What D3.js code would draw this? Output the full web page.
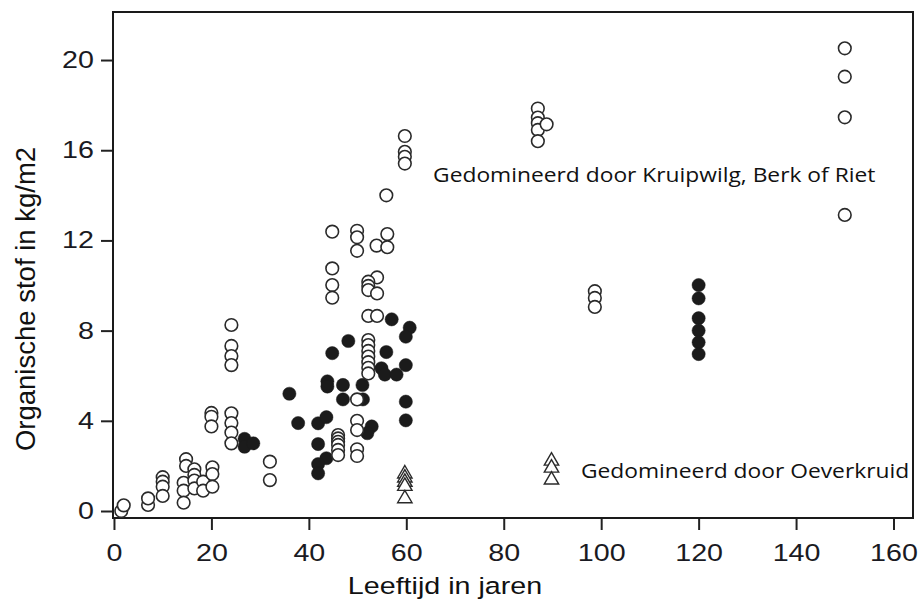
<!DOCTYPE html>
<html><head><meta charset="utf-8">
<script src="https://cdn.jsdelivr.net/npm/d3@7"></script>
<style>body{margin:0;background:#fff}svg{display:block}</style>
</head><body><svg id="c" width="918" height="599"></svg>
<script>
// Open circles: gedomineerd door Kruipwilg, Berk of Riet  [leeftijd, organische stof]
const openAges = [1.5,2,7,7,10,10,10,10,14.8,14.8,14.3,14.3,14.3,16.5,16.5,16.5,16.5,18.3,18.3,20.2,20.2,20.2,20,20,20,24.1,24.1,24.1,24.1,24.1,24.1,24.1,24.1,32,32,44.8,44.8,44.8,44.8,49.9,49.9,49.9,55.9,56.1,53.9,56.1,54,52.2,52.2,52.2,54,52.2,54,52.2,52.2,52.2,52.2,52.2,52.2,52.2,49.9,49.9,49.9,49.9,49.9,46,46,46,46,46,46,59.7,59.7,59.7,59.7,87,87,87,87,87,88.8,98.7,98.7,98.7,150,150,150,150];
const openValues = [0,0.25,0.27,0.56,1.5,1.3,1.08,0.67,2.3,2.0,1.25,0.9,0.37,1.85,1.6,1.35,1.0,1.3,0.9,1.94,1.64,1.08,4.35,4.18,3.75,4.33,3.9,3.48,3.0,8.25,7.32,6.87,6.47,2.19,1.37,12.39,10.76,10.02,9.46,12.43,12.14,11.54,14.0,12.28,11.77,11.7,10.36,10.17,9.98,9.8,9.65,8.65,8.65,7.58,7.36,7.1,6.85,6.6,6.35,6.1,4.95,4.0,3.59,2.74,2.44,3.37,3.22,3.07,2.93,2.71,2.48,16.63,15.93,15.71,15.41,17.85,17.45,17.2,16.9,16.4,17.15,9.75,9.45,9.05,20.52,19.26,17.46,13.13];
// Filled circles
const filledAges = [26.8,26.8,28.6,36,37.8,41.9,43.6,41.9,43.6,41.9,41.9,43.8,43.8,47,51,47,51.1,44.8,48.1,57,60.7,59.9,55.9,59.9,54.9,55.6,58,59.9,59.9,52.9,52,120,120,120,120,120,120];
const filledValues = [3.2,2.85,3.0,5.2,3.9,3.89,4.16,2.97,2.34,2.08,1.67,5.75,5.52,5.59,5.59,4.95,4.95,7.0,7.54,8.5,8.13,7.73,7.05,6.47,6.33,6.05,6.05,4.85,4.02,3.75,3.45,10.02,9.43,8.55,8.0,7.48,6.96];
// Open triangles: gedomineerd door Oeverkruid
const triAges = [59.7,59.7,59.7,59.7,59.7,89.8,89.8,89.8];
const triValues = [1.65,1.47,1.28,1.1,0.55,2.22,1.91,1.38];

const xTicks = [0,20,40,60,80,100,120,140,160];
const yTicks = [0,4,8,12,16,20];
const xTitle = "Leeftijd in jaren";
const yTitle = "Organische stof in kg/m2";
const annotations = [
  {text:"Gedomineerd door Kruipwilg, Berk of Riet", age:65.5, value:14.59},
  {text:"Gedomineerd door Oeverkruid", age:95.85, value:1.46}
];

const svg = d3.select("#c");
const L=113, R=913, T=12, B=518;
const SX = 1.22; // horizontal stretch of the original raster
const x = d3.scaleLinear().domain([-0.2,164]).range([L,R]);
const y = d3.scaleLinear().domain([-0.31,22.13]).range([B,T]);
const axisFont = "'Liberation Sans',Arial,sans-serif";

// axes
const xa = svg.append("g").attr("transform",`translate(0,${B})`)
  .call(d3.axisBottom(x).tickValues(xTicks).tickSize(12).tickPadding(14).tickSizeOuter(0));
const ya = svg.append("g").attr("transform",`translate(${L},0)`)
  .call(d3.axisLeft(y).tickValues(yTicks).tickSize(12).tickPadding(5).tickSizeOuter(0));
[xa,ya].forEach(a=>{
  a.select(".domain").remove();
  a.selectAll(".tick line").attr("stroke","#222").attr("stroke-width",2);
  a.selectAll(".tick text").attr("font-family",axisFont).attr("font-size",23.5).attr("fill","#1a1a22");
});
xa.selectAll(".tick text").attr("transform",`scale(${SX},1)`);
ya.selectAll(".tick text").attr("x",-19/SX).attr("transform",`scale(${SX},1)`);

// frame
svg.append("rect").attr("x",L).attr("y",T).attr("width",R-L).attr("height",B-T)
  .attr("fill","none").attr("stroke","#1a1a1a").attr("stroke-width",2);

const g = svg.append("g");
// filled circles
g.selectAll("circle.f").data(filledAges.map((a,i)=>[a,filledValues[i]])).join("circle")
  .attr("class","f").attr("cx",d=>x(d[0])).attr("cy",d=>y(d[1])).attr("r",6.6)
  .attr("fill","#1b1b1b").attr("stroke","#1b1b1b").attr("stroke-width",0.5);
// open circles
g.selectAll("circle.o").data(openAges.map((a,i)=>[a,openValues[i]])).join("circle")
  .attr("class","o").attr("cx",d=>x(d[0])).attr("cy",d=>y(d[1])).attr("r",6.3)
  .attr("fill","#fff").attr("stroke","#2a2a2a").attr("stroke-width",1.6);
// triangles
const tri = d3.symbol().type(d3.symbolTriangle).size(90);
g.selectAll("path.t").data(triAges.map((a,i)=>[a,triValues[i]])).join("path")
  .attr("class","t").attr("d",tri).attr("transform",d=>`translate(${x(d[0])},${y(d[1])})`)
  .attr("fill","#fff").attr("stroke","#2a2a2a").attr("stroke-width",1.4);

// annotations
svg.selectAll("text.ann").data(annotations).join("text").attr("class","ann")
  .attr("transform",d=>`translate(${x(d.age)},${y(d.value)}) scale(1.14,1)`).text(d=>d.text)
  .attr("font-family","'Open Sans',sans-serif").attr("font-size",20).attr("fill","#111");

// titles
svg.append("text").attr("transform",`translate(445,594) scale(${SX},1)`).attr("text-anchor","middle")
  .attr("font-family",axisFont).attr("font-size",23.5).attr("fill","#111").text(xTitle);
svg.append("text").attr("transform",`translate(35,299) rotate(-90)`).attr("text-anchor","middle")
  .attr("font-family",axisFont).attr("font-size",27.5).attr("fill","#111").text(yTitle);
</script></body></html>
